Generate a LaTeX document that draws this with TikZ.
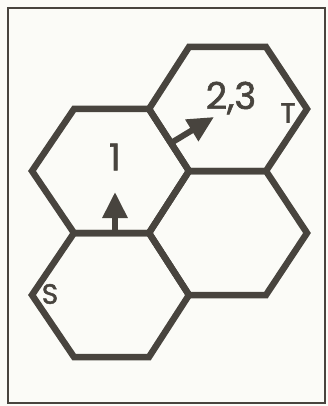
\documentclass[tikz,border=0pt]{standalone}
\usepackage{fontspec}
\setmainfont{Poppins}
\newfontfamily\labfont{Poppins}[FakeBold=1.6]
\usetikzlibrary{arrows.meta}
\definecolor{ink}{RGB}{72,68,62}
\definecolor{paper}{RGB}{251,251,247}
\tikzset{
  hexline/.style={draw=ink, line width=6.5pt, line join=miter, miter limit=4},
  bigarrow/.style={draw=ink, line width=6pt, -{Triangle[length=26pt,width=24pt]}, fill=ink},
  digit/.style={text=ink, font=\labfont\fontsize{37}{37}\selectfont, inner sep=0pt},
  letter/.style={text=ink, font=\labfont\fontsize{28}{28}\selectfont, inner sep=0pt},
}
\begin{document}
\begin{tikzpicture}[x=1pt,y=-1pt]
\fill[paper] (0,0) rectangle (328,406);
\useasboundingbox (0,0) rectangle (328,406);
\draw[ink, line width=2.5pt] (8,8) rectangle (325,403);
% hex 1
\draw[hexline] (74,109) -- (149,109) -- (189,171) -- (149,233) -- (74,233) -- (32,171) -- cycle;
% hex T
\draw[hexline] (149,109) -- (189,47) -- (266,47) -- (307,109) -- (266,171) -- (189,171) -- cycle;
% hex lower right
\draw[hexline] (189,171) -- (266,171) -- (307,233) -- (266,295) -- (189,295) -- (149,233) -- cycle;
% hex S
\draw[hexline] (74,233) -- (149,233) -- (189,295) -- (149,357) -- (74,357) -- (32,295) -- cycle;
% labels
\node[digit] (one) at (115,157) {1};
\node[digit] (twothree) at (231,98) {2,3};
\node[letter] (t) at (288,113) {T};
\node[letter] (s) at (50,294) {S};
% arrows
\coordinate (a1s) at (115,233);
\coordinate (a1e) at (115,192);
\coordinate (a2s) at (171,143);
\coordinate (a2e) at (214,117);
\draw[bigarrow] (a1s) -- (a1e);
\draw[bigarrow] (a2s) -- (a2e);
\end{tikzpicture}
\end{document}
